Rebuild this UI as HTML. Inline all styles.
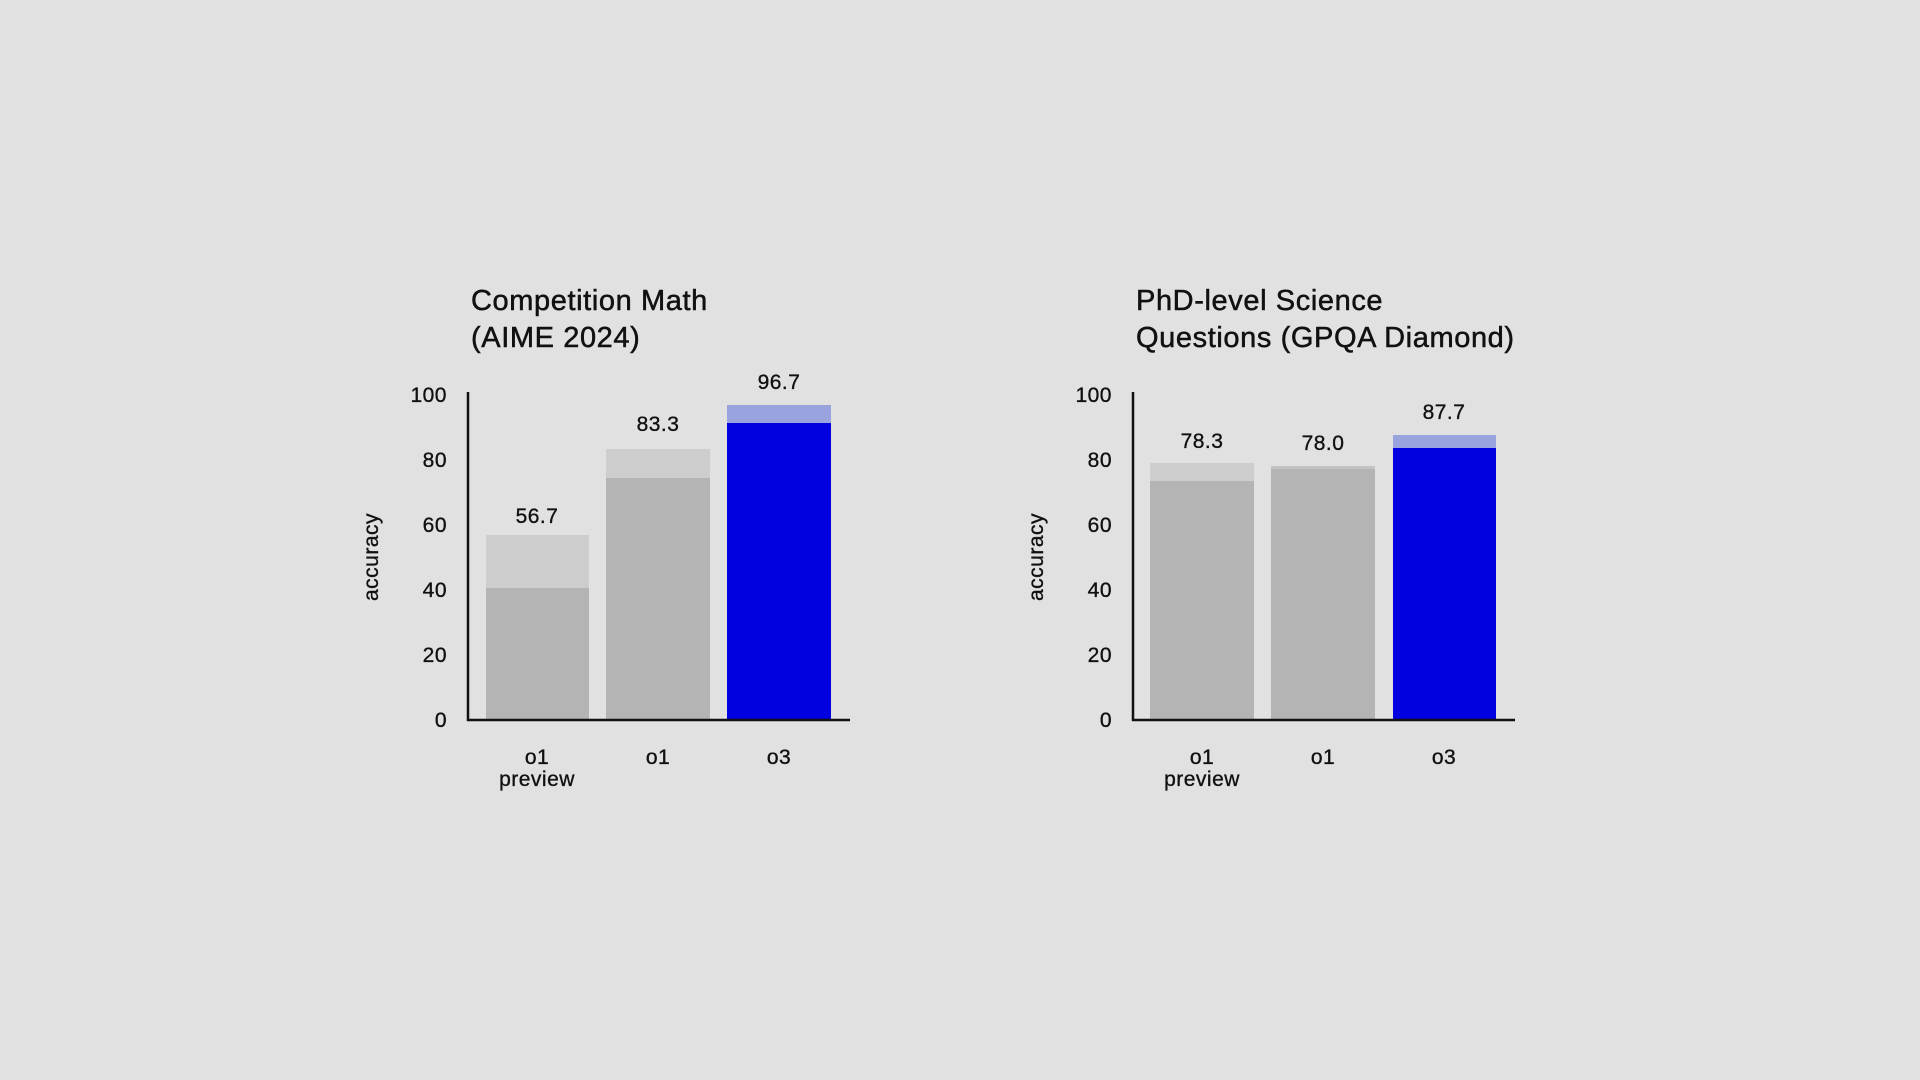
<!DOCTYPE html>
<html><head><meta charset="utf-8"><style>
html,body{margin:0;padding:0;background:#e1e1e1;}
svg{display:block;}
text{font-family:"Liberation Sans","DejaVu Sans",sans-serif;fill:#111;stroke:#111;stroke-width:0.35;}
.t{letter-spacing:0.6px;stroke-width:0.5;}
.l{letter-spacing:0.5px;}
</style></head><body>
<svg width="1920" height="1080" viewBox="0 0 1920 1080">
<rect width="1920" height="1080" fill="#e1e1e1"/>
<!-- Left chart -->
<text class="t" x="471" y="310" font-size="29">Competition Math</text>
<text class="t" x="471" y="347" font-size="29">(AIME 2024)</text>
<g font-size="21" text-anchor="end" class="l">
<text x="447" y="402">100</text><text x="447" y="467">80</text><text x="447" y="532">60</text>
<text x="447" y="597">40</text><text x="447" y="662">20</text><text x="447" y="727">0</text>
</g>
<text transform="translate(378,557) rotate(-90)" font-size="21" text-anchor="middle" class="l">accuracy</text>
<rect x="486" y="535" width="103" height="185" fill="#cdcdcd"/>
<rect x="486" y="588" width="103" height="132" fill="#b4b4b4"/>
<rect x="606" y="449" width="104" height="271" fill="#cdcdcd"/>
<rect x="606" y="478" width="104" height="242" fill="#b4b4b4"/>
<rect x="727" y="405" width="104" height="315" fill="#99a3de"/>
<rect x="727" y="423" width="104" height="297" fill="#0000e0"/>
<line x1="468" y1="392" x2="468" y2="721" stroke="#111" stroke-width="2.5"/>
<line x1="467" y1="720" x2="850" y2="720" stroke="#111" stroke-width="2.5"/>
<g font-size="21" text-anchor="middle" class="l">
<text x="537" y="523">56.7</text><text x="658" y="431">83.3</text><text x="779" y="389">96.7</text>
<text x="537" y="764">o1</text><text x="537" y="786">preview</text>
<text x="658" y="764">o1</text><text x="779" y="764">o3</text>
</g>
<!-- Right chart -->
<text class="t" x="1136" y="310" font-size="29">PhD-level Science</text>
<text class="t" x="1136" y="347" font-size="29">Questions (GPQA Diamond)</text>
<g font-size="21" text-anchor="end" class="l">
<text x="1112" y="402">100</text><text x="1112" y="467">80</text><text x="1112" y="532">60</text>
<text x="1112" y="597">40</text><text x="1112" y="662">20</text><text x="1112" y="727">0</text>
</g>
<text transform="translate(1043,557) rotate(-90)" font-size="21" text-anchor="middle" class="l">accuracy</text>
<rect x="1150" y="463" width="104" height="257" fill="#cdcdcd"/>
<rect x="1150" y="481" width="104" height="239" fill="#b4b4b4"/>
<rect x="1271" y="466" width="104" height="254" fill="#c4c4c4"/>
<rect x="1271" y="469" width="104" height="251" fill="#b4b4b4"/>
<rect x="1393" y="435" width="103" height="285" fill="#99a3de"/>
<rect x="1393" y="448" width="103" height="272" fill="#0000e0"/>
<line x1="1133" y1="392" x2="1133" y2="721" stroke="#111" stroke-width="2.5"/>
<line x1="1132" y1="720" x2="1515" y2="720" stroke="#111" stroke-width="2.5"/>
<g font-size="21" text-anchor="middle" class="l">
<text x="1202" y="448">78.3</text><text x="1323" y="450">78.0</text><text x="1444" y="419">87.7</text>
<text x="1202" y="764">o1</text><text x="1202" y="786">preview</text>
<text x="1323" y="764">o1</text><text x="1444" y="764">o3</text>
</g>
</svg>
</body></html>
